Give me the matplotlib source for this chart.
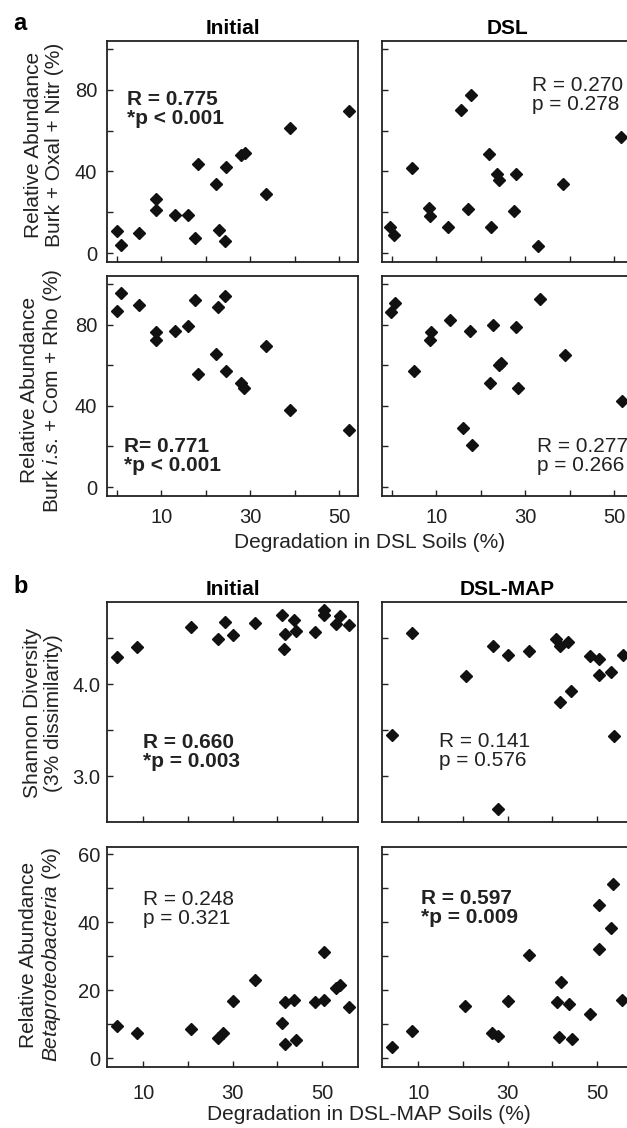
import matplotlib
matplotlib.use('Agg')
import matplotlib.pyplot as plt

plt.rcParams['font.family'] = ['Liberation Sans', 'DejaVu Sans']
plt.rcParams['mathtext.fontset'] = 'custom'
plt.rcParams['mathtext.rm'] = 'Liberation Sans'
plt.rcParams['mathtext.it'] = 'Liberation Sans:italic'
plt.rcParams['mathtext.bf'] = 'Liberation Sans:bold'

# ---- panel a: degradation in DSL soils (%) vs relative abundance (%)
a_init_top_x = [0.0, 1.0, 5.0, 8.7, 8.7, 13.1, 16.1, 18.2, 17.6, 22.4, 22.9, 24.4, 24.6, 28.0, 28.7, 33.5, 38.9, 52.2]
a_init_top_y = [11.0, 3.9, 10.0, 26.5, 21.1, 18.5, 18.5, 43.9, 7.4, 34.0, 11.1, 5.7, 42.4, 48.1, 48.9, 29.0, 61.5, 69.6]

a_dsl_top_x = [-0.5, 0.45, 4.6, 8.3, 8.5, 12.6, 15.6, 17.7, 17.1, 21.8, 22.3, 23.7, 24.0, 28.0, 27.5, 32.8, 38.5, 51.4]
a_dsl_top_y = [12.6, 8.8, 41.7, 21.9, 18.3, 12.9, 70.2, 77.7, 21.4, 48.6, 12.8, 39.0, 36.0, 38.8, 20.5, 3.3, 33.9, 56.8]

a_init_bot_x = [0.1, 0.9, 5.0, 8.7, 8.8, 13.1, 16.1, 17.6, 18.2, 22.8, 22.3, 24.4, 24.6, 28.0, 28.6, 33.5, 39.0, 52.2]
a_init_bot_y = [86.8, 95.6, 89.9, 76.3, 72.6, 76.8, 79.3, 92.3, 55.8, 88.6, 65.7, 94.0, 57.4, 51.5, 48.9, 69.7, 38.0, 28.1]

a_dsl_bot_x = [-0.1, 0.75, 4.9, 8.75, 8.6, 13.1, 17.5, 15.9, 18.0, 22.7, 22.1, 24.0, 24.6, 27.9, 28.4, 33.4, 38.9, 51.8]
a_dsl_bot_y = [86.1, 90.5, 57.1, 76.2, 72.6, 82.2, 76.8, 29.0, 20.7, 80.1, 51.2, 60.0, 61.0, 78.8, 48.9, 92.7, 65.3, 42.6]

# ---- panel b: degradation in DSL-MAP soils (%)
b_init_top_x = [4.1, 8.6, 20.6, 26.7, 28.2, 30.0, 34.9, 41.1, 41.7, 41.5, 43.6, 44.1, 48.3, 50.3, 50.4, 53.0, 54.0, 56.0]
b_init_top_y = [4.296, 4.405, 4.618, 4.488, 4.672, 4.535, 4.658, 4.752, 4.542, 4.376, 4.69, 4.578, 4.564, 4.802, 4.75, 4.65, 4.741, 4.636]

b_map_top_x = [4.05, 8.5, 20.6, 26.6, 27.9, 30.0, 34.8, 40.9, 41.7, 41.6, 43.5, 44.1, 48.4, 50.4, 50.4, 53.0, 53.7, 55.7]
b_map_top_y = [3.447, 4.549, 4.083, 4.416, 2.641, 4.318, 4.354, 4.484, 4.412, 3.808, 4.459, 3.928, 4.30, 4.271, 4.094, 4.134, 3.436, 4.311]

b_init_bot_x = [4.1, 8.6, 20.6, 26.6, 27.8, 30.0, 34.9, 41.0, 41.6, 41.6, 43.6, 44.1, 48.3, 50.3, 50.3, 53.0, 54.0, 56.0]
b_init_bot_y = [9.6, 7.5, 8.5, 5.8, 7.3, 16.7, 22.9, 10.2, 4.1, 16.5, 17.2, 5.2, 16.6, 31.1, 17.1, 20.6, 21.5, 15.0]

b_map_bot_x = [4.05, 8.5, 20.4, 26.4, 27.8, 30.0, 34.8, 41.0, 41.8, 41.5, 43.6, 44.3, 48.4, 50.4, 50.4, 53.0, 53.6, 55.5]
b_map_bot_y = [3.4, 8.0, 15.4, 7.5, 6.6, 16.7, 30.4, 16.4, 22.3, 6.2, 15.9, 5.6, 13.0, 44.9, 32.2, 38.2, 51.2, 17.2]

a_xticks = [0, 10, 20, 30, 40, 50]
a_xticklabels = ['', '10', '', '30', '', '50']
a_yticks = [0, 20, 40, 60, 80, 100]
a_yticklabels = ['0', '', '40', '', '80', '']
b_xticks = [10, 20, 30, 40, 50]
b_xticklabels = ['10', '', '30', '', '50']
b_top_yticks = [3.0, 3.5, 4.0, 4.5]
b_top_yticklabels = ['3.0', '', '4.0', '']
b_bot_yticks = [0, 10, 20, 30, 40, 50, 60]
b_bot_yticklabels = ['0', '', '20', '', '40', '', '60']

W, H = 627, 1128
fig = plt.figure(figsize=(W / 100, H / 100), dpi=100)


def add_box(left, top, w, h):
    # pixel box -> figure fraction (right-hand panels run off the page on purpose)
    return fig.add_axes([left / W, 1 - (top + h) / H, w / W, h / H])


def style(ax, xlim, ylim, xticks, xlabels, yticks, ylabels, xpad, ypad):
    ax.set_xlim(*xlim)
    ax.set_ylim(*ylim)
    ax.set_xticks(xticks)
    ax.set_xticklabels(xlabels)
    ax.set_yticks(yticks)
    ax.set_yticklabels(ylabels)
    ax.tick_params(direction='in', length=4, width=1, labelsize=14.5, colors='#222222')
    ax.tick_params(axis='x', pad=xpad)
    ax.tick_params(axis='y', pad=ypad)
    for s in ax.spines.values():
        s.set_linewidth(1.3)
        s.set_color('#222222')


def dots(ax, x, y):
    ax.plot(x, y, 'D', ms=6.3, color='#111111', mec='#111111', ls='none')


def note(ax, x, y, txt, bold):
    ax.text(x, y, txt, transform=ax.transAxes, ha='left', va='top', fontsize=15,
            fontweight='bold' if bold else 'normal', linespacing=1.0, color='#222222')


no = [''] * 10

# ---------------- panel a
a_xlim = (-2.2, 54.2)
a_ylim = (-4.4, 104)

ax = add_box(107, 41, 251, 221)
style(ax, a_xlim, a_ylim, a_xticks, no[:6], a_yticks, a_yticklabels, 8.5, 7)
dots(ax, a_init_top_x, a_init_top_y)
note(ax, 0.08, 0.778, 'R = 0.775\n*p < 0.001', True)
ax.set_title('Initial', fontweight='bold', fontsize=15, pad=5)
ax.set_ylabel('Relative Abundance\nBurk + Oxal + Nitr (%)', fontsize=15, linespacing=1.15, color='#222222')
ax.yaxis.set_label_coords(-0.171, 0.53)

ax = add_box(382, 41, 251, 221)
style(ax, a_xlim, a_ylim, a_xticks, no[:6], a_yticks, no[:6], 8.5, 7)
dots(ax, a_dsl_top_x, a_dsl_top_y)
note(ax, 0.598, 0.842, 'R = 0.270\np = 0.278', False)
ax.set_title('DSL', fontweight='bold', fontsize=15, pad=5)

ax = add_box(107, 276, 251, 220)
style(ax, a_xlim, a_ylim, a_xticks, a_xticklabels, a_yticks, a_yticklabels, 8.5, 7)
dots(ax, a_init_bot_x, a_init_bot_y)
note(ax, 0.068, 0.268, 'R= 0.771\n*p < 0.001', True)
ax.set_ylabel('Relative Abundance\nBurk $\\it{i}$.$\\it{s}$. + Com + Rho (%)', fontsize=15, linespacing=1.15, color='#222222')
ax.yaxis.set_label_coords(-0.171, 0.48)

ax = add_box(382, 276, 251, 220)
style(ax, a_xlim, a_ylim, a_xticks, a_xticklabels, a_yticks, no[:6], 8.5, 7)
dots(ax, a_dsl_bot_x, a_dsl_bot_y)
note(ax, 0.618, 0.268, 'R = 0.277\np = 0.266', False)

fig.text(13 / W, 1 - 30 / H, 'a', fontweight='bold', fontsize=17, va='baseline')
fig.text(370 / W, 1 - 542 / H, 'Degradation in DSL Soils (%)', ha='center', va='center', fontsize=15, color='#222222')

# ---------------- panel b
b_xlim = (1.9, 58.0)

ax = add_box(107, 602, 251, 220)
style(ax, b_xlim, (2.505, 4.89), b_xticks, no[:5], b_top_yticks, b_top_yticklabels, 12, 5)
dots(ax, b_init_top_x, b_init_top_y)
note(ax, 0.143, 0.405, 'R = 0.660\n*p = 0.003', True)
ax.set_title('Initial', fontweight='bold', fontsize=15, pad=5)
ax.set_ylabel('Shannon Diversity\n(3% dissimilarity)', fontsize=15, linespacing=1.15, color='#222222')
ax.yaxis.set_label_coords(-0.175, 0.495)

ax = add_box(382, 602, 251, 220)
style(ax, b_xlim, (2.505, 4.89), b_xticks, no[:5], b_top_yticks, no[:4], 12, 5)
dots(ax, b_map_top_x, b_map_top_y)
note(ax, 0.227, 0.41, 'R = 0.141\np = 0.576', False)
ax.set_title('DSL-MAP', fontweight='bold', fontsize=15, pad=5)

ax = add_box(107, 847, 251, 220)
style(ax, b_xlim, (-2.6, 62.1), b_xticks, b_xticklabels, b_bot_yticks, b_bot_yticklabels, 12, 5)
dots(ax, b_init_bot_x, b_init_bot_y)
note(ax, 0.143, 0.805, 'R = 0.248\np = 0.321', False)
ax.set_ylabel('Relative Abundance\n$\\it{Betaproteobacteria\\ (\\%)}$', fontsize=15, linespacing=1.15, color='#222222')
ax.yaxis.set_label_coords(-0.175, 0.51)

ax = add_box(382, 847, 251, 220)
style(ax, b_xlim, (-2.6, 62.1), b_xticks, b_xticklabels, b_bot_yticks, no[:7], 12, 5)
dots(ax, b_map_bot_x, b_map_bot_y)
note(ax, 0.155, 0.81, 'R = 0.597\n*p = 0.009', True)

fig.text(13 / W, 1 - 593 / H, 'b', fontweight='bold', fontsize=17, va='baseline')
fig.text(369 / W, 1 - 1115 / H, 'Degradation in DSL-MAP Soils (%)', ha='center', va='center', fontsize=15, color='#222222')

fig.savefig('out.png', dpi=100)
